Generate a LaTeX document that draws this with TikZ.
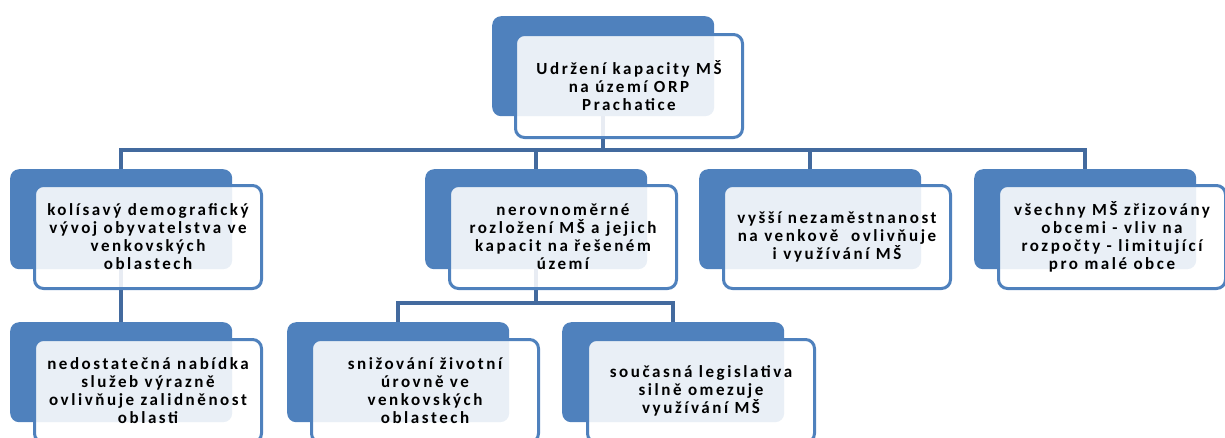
\documentclass[tikz,border=0pt]{standalone}
\usepackage{fontspec}
\setmainfont{Carlito}[LetterSpace=15]
\definecolor{boxblue}{RGB}{79,129,189}
\definecolor{linkblue}{RGB}{67,106,158}
\tikzset{
  backbox/.style={fill=boxblue, rounded corners=9pt, minimum width=222pt, minimum height=100pt, inner sep=0pt, anchor=north west},
  frontbox/.style={draw=boxblue, line width=3pt, fill=white, fill opacity=0.88, text opacity=1, rounded corners=9pt,
    minimum width=227pt, minimum height=103pt, inner sep=0pt, align=center, anchor=north west,
    font=\fontsize{17}{18}\selectfont\bfseries},
  link/.style={draw=linkblue, line width=4pt}
}
\begin{document}
\begin{tikzpicture}[x=1pt,y=-1pt]
\useasboundingbox (0,0) rectangle (1225,437);
\clip (0,0) rectangle (1225,437);
% back rectangles
\node[backbox] (b0) at (492,16) {};
\node[backbox] (b1) at (10,169) {};
\node[backbox] (b2) at (425,169) {};
\node[backbox] (b3) at (699,169) {};
\node[backbox] (b4) at (974,169) {};
\node[backbox] (c1) at (10,322) {};
\node[backbox] (c2) at (287,322) {};
\node[backbox] (c3) at (562,322) {};
% connectors
\draw[link] (b0.south) -- ++(0,34) -| (b1.north);
\draw[link] (b0.south) -- ++(0,34) -| (b2.north);
\draw[link] (b0.south) -- ++(0,34) -| (b3.north);
\draw[link] (b0.south) -- ++(0,34) -| (b4.north);
\draw[link] (b1.south) -- (c1.north);
\draw[link] (b2.south) -- ++(0,34) -| (c2.north);
\draw[link] (b2.south) -- ++(0,34) -| (c3.north);
% front boxes
\node[frontbox] (f0) at (514,33) {Udržení kapacity MŠ\\na území ORP\\Prachatice};
\node[frontbox] (f1) at (33,184) {kolísavý demografický\\vývoj obyvatelstva ve\\venkovských\\oblastech};
\node[frontbox] (f2) at (448,184) {nerovnoměrné\\rozložení MŠ a jejich\\kapacit na řešeném\\území};
\node[frontbox] (f3) at (722,184) {vyšší nezaměstnanost\\na venkově \ ovlivňuje\\i využívání MŠ};
\node[frontbox] (f4) at (997,184) {všechny MŠ zřizovány\\obcemi - vliv na\\rozpočty - limitující\\pro malé obce};
\node[frontbox] (g1) at (33,338) {nedostatečná nabídka\\služeb výrazně\\ovlivňuje zalidněnost\\oblasti};
\node[frontbox] (g2) at (310,338) {snižování životní\\úrovně ve\\venkovských\\oblastech};
\node[frontbox] (g3) at (586,338) {současná legislativa\\silně omezuje\\využívání MŠ};
\end{tikzpicture}
\end{document}
